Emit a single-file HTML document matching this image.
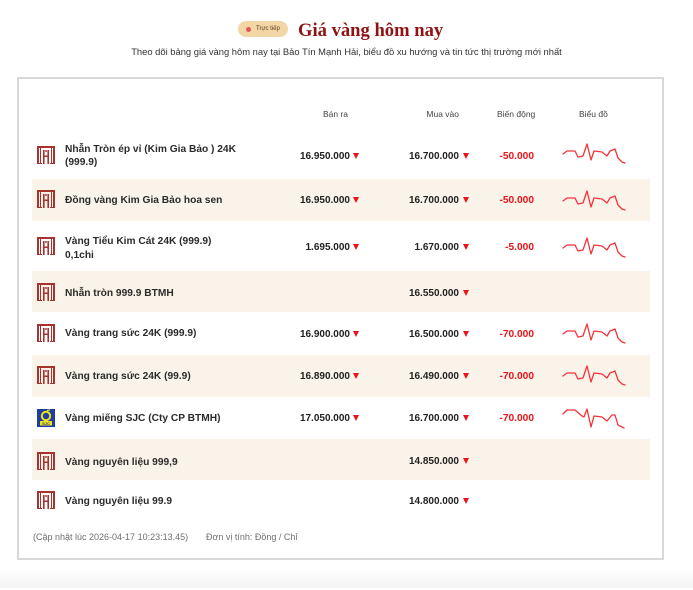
<!DOCTYPE html>
<html><head><meta charset="utf-8">
<style>
*{margin:0;padding:0;box-sizing:border-box}
html,body{width:693px;height:588px;overflow:hidden;background:#fff;font-family:"Liberation Sans",sans-serif}
.a{position:absolute;white-space:nowrap}
.card{position:absolute;left:17px;top:77px;width:647px;height:483px;border:2px solid #d9d9d9;background:#fff}
.bg{position:absolute;left:32px;width:618px;background:#faf3e9}
.h{font-size:8.5px;color:#444;line-height:12px;top:108px}
.nm{font-size:10.2px;font-weight:bold;color:#2b2b2b;line-height:14px;left:65px}
.num{font-size:10px;font-weight:bold;color:#222;line-height:14px;text-align:right}
.ch{font-size:10.2px;font-weight:bold;color:#e8141a;line-height:14px;text-align:right;right:159px}
.tri{position:absolute;width:0;height:0;border-left:3px solid transparent;border-right:3px solid transparent;border-top:6px solid #e8141a}
.ic{position:absolute;left:37px;width:18px;height:18px}
.rows{position:absolute;left:0;top:1.5px;width:693px;height:588px}
</style></head><body>

<!-- header -->
<div class="a" style="left:238px;top:21px;width:50px;height:16px;border-radius:8px;background:#f3d6a6"></div>
<div class="a" style="left:245.5px;top:26.5px;width:5px;height:5px;border-radius:50%;background:#e0575a"></div>
<div class="a" style="left:256px;top:24px;font-size:6px;line-height:10px;color:#5a3b1e">Trực tiếp</div>
<div class="a" style="left:298px;top:19px;font-family:'Liberation Serif',serif;font-weight:bold;font-size:18.6px;line-height:24px;color:#8e1414">Giá vàng hôm nay</div>
<div class="a" style="left:0;width:693px;text-align:center;top:46px;font-size:9.4px;line-height:12px;color:#333">Theo dõi bảng giá vàng hôm nay tại Bảo Tín Mạnh Hải, biểu đồ xu hướng và tin tức thị trường mới nhất</div>

<div class="card"></div>
<div class="a" style="left:0;top:568px;width:693px;height:20px;background:linear-gradient(#fff,#f4f4f4)"></div>

<!-- beige rows -->
<div class="bg" style="top:179px;height:42px"></div>
<div class="bg" style="top:271px;height:41px"></div>
<div class="bg" style="top:355px;height:42px"></div>
<div class="bg" style="top:439px;height:41px"></div>

<!-- column headers -->
<div class="a h" style="right:345px">Bán ra</div>
<div class="a h" style="right:234px">Mua vào</div>
<div class="a h" style="left:497px">Biến động</div>
<div class="a h" style="left:579px">Biểu đồ</div>

<svg width="0" height="0" style="position:absolute">
<defs>
<g id="logo">
<rect x="0" y="0" width="18" height="2" fill="#a8322d"/>
<rect x="0" y="0" width="2" height="18" fill="#a8322d"/>
<rect x="3" y="2" width="1" height="16" fill="#a8322d"/>
<rect x="16" y="0" width="2" height="18" fill="#a8322d"/>
<rect x="14" y="2" width="1" height="16" fill="#a8322d"/>
<rect x="6" y="4" width="1.6" height="14" fill="#a8322d"/>
<rect x="10.4" y="4" width="1.6" height="14" fill="#a8322d"/>
<rect x="6" y="9.5" width="6" height="1.5" fill="#a8322d"/>
<rect x="8.3" y="4" width="1.4" height="2" fill="#a8322d"/>
<rect x="0" y="17" width="5" height="1" fill="#a8322d"/>
<rect x="13" y="17" width="5" height="1" fill="#a8322d"/>
</g>
</defs>
</svg>

<!-- icons -->
<svg class="ic" style="top:146px" viewBox="0 0 18 18"><use href="#logo"/></svg>
<svg class="ic" style="top:190px" viewBox="0 0 18 18"><use href="#logo"/></svg>
<svg class="ic" style="top:237px" viewBox="0 0 18 18"><use href="#logo"/></svg>
<svg class="ic" style="top:283px" viewBox="0 0 18 18"><use href="#logo"/></svg>
<svg class="ic" style="top:324px" viewBox="0 0 18 18"><use href="#logo"/></svg>
<svg class="ic" style="top:366px" viewBox="0 0 18 18"><use href="#logo"/></svg>
<svg class="ic" style="top:409px" viewBox="0 0 18 18">
<rect width="18" height="18" fill="#1f3f9e"/>
<circle cx="9" cy="7" r="4.2" fill="none" stroke="#f2e21a" stroke-width="2"/>
<path d="M10 1.5 L13 1" stroke="#f2e21a" stroke-width="1.2"/>
<rect x="3" y="12" width="12" height="4.5" fill="#f2e21a"/>
<text x="9" y="16" font-size="4" text-anchor="middle" fill="#1f3f9e" font-family="Liberation Sans" font-weight="bold">SJC</text>
</svg>
<svg class="ic" style="top:452px" viewBox="0 0 18 18"><use href="#logo"/></svg>
<svg class="ic" style="top:491px" viewBox="0 0 18 18"><use href="#logo"/></svg>

<div class="rows">
<!-- names -->
<div class="a nm" style="top:141px;line-height:13.5px">Nhẫn Tròn ép vỉ (Kim Gia Bảo ) 24K<br>(999.9)</div>
<div class="a nm" style="top:192px">Đồng vàng Kim Gia Bảo hoa sen</div>
<div class="a nm" style="top:233px;line-height:14px">Vàng Tiểu Kim Cát 24K (999.9)<br>0,1chi</div>
<div class="a nm" style="top:285px">Nhẫn tròn 999.9 BTMH</div>
<div class="a nm" style="top:325px">Vàng trang sức 24K (999.9)</div>
<div class="a nm" style="top:368px">Vàng trang sức 24K (99.9)</div>
<div class="a nm" style="top:410px">Vàng miếng SJC (Cty CP BTMH)</div>
<div class="a nm" style="top:454px">Vàng nguyên liệu 999,9</div>
<div class="a nm" style="top:493px">Vàng nguyên liệu 99.9</div>

<!-- Bán ra -->
<div class="a num" style="right:343px;top:148px">16.950.000</div><div class="tri" style="left:353px;top:151px"></div>
<div class="a num" style="right:343px;top:192px">16.950.000</div><div class="tri" style="left:353px;top:195px"></div>
<div class="a num" style="right:343px;top:239px">1.695.000</div><div class="tri" style="left:353px;top:242px"></div>
<div class="a num" style="right:343px;top:326px">16.900.000</div><div class="tri" style="left:353px;top:329px"></div>
<div class="a num" style="right:343px;top:368px">16.890.000</div><div class="tri" style="left:353px;top:371px"></div>
<div class="a num" style="right:343px;top:410px">17.050.000</div><div class="tri" style="left:353px;top:413px"></div>

<!-- Mua vào -->
<div class="a num" style="right:234px;top:148px">16.700.000</div><div class="tri" style="left:463px;top:151px"></div>
<div class="a num" style="right:234px;top:192px">16.700.000</div><div class="tri" style="left:463px;top:195px"></div>
<div class="a num" style="right:234px;top:239px">1.670.000</div><div class="tri" style="left:463px;top:242px"></div>
<div class="a num" style="right:234px;top:285px">16.550.000</div><div class="tri" style="left:463px;top:288px"></div>
<div class="a num" style="right:234px;top:326px">16.500.000</div><div class="tri" style="left:463px;top:329px"></div>
<div class="a num" style="right:234px;top:368px">16.490.000</div><div class="tri" style="left:463px;top:371px"></div>
<div class="a num" style="right:234px;top:410px">16.700.000</div><div class="tri" style="left:463px;top:413px"></div>
<div class="a num" style="right:234px;top:453px">14.850.000</div><div class="tri" style="left:463px;top:456px"></div>
<div class="a num" style="right:234px;top:493px">14.800.000</div><div class="tri" style="left:463px;top:496px"></div>

<!-- Biến động -->
<div class="a ch" style="top:148px">-50.000</div>
<div class="a ch" style="top:192px">-50.000</div>
<div class="a ch" style="top:239px">-5.000</div>
<div class="a ch" style="top:326px">-70.000</div>
<div class="a ch" style="top:368px">-70.000</div>
<div class="a ch" style="top:410px">-70.000</div>
</div>

<!-- sparklines -->
<svg class="a" style="left:0;top:0" width="693" height="588" viewBox="0 0 693 588">
<defs>
<polyline id="sp" points="0,0 4,-3 12,-3 15,3 20,2 24,-10 28,6 31,-3 39,-2 44,2 47,-3 52,-5 55,4 59,8 62,9" fill="none" stroke="#f5333a" stroke-width="1.3" stroke-linejoin="round" stroke-linecap="round"/>
</defs>
<use href="#sp" x="563" y="154"/>
<use href="#sp" x="563" y="201"/>
<use href="#sp" x="563" y="248"/>
<use href="#sp" x="563" y="334"/>
<use href="#sp" x="563" y="376"/>
<polyline points="563,414 567,410 575,410 582,416 584,417 587,409 591,427 594,416 602,417 607,421 612,415 615,415 618,425 622,427 624,428" fill="none" stroke="#f5333a" stroke-width="1.3" stroke-linejoin="round" stroke-linecap="round"/>
</svg>

<!-- footer -->
<div class="a" style="left:33px;top:531px;font-size:9px;line-height:12px;color:#6f6f6f">(Cập nhật lúc 2026-04-17 10:23:13.45)</div>
<div class="a" style="left:206px;top:531px;font-size:9px;line-height:12px;color:#6f6f6f">Đơn vị tính: Đồng / Chỉ</div>

</body></html>
